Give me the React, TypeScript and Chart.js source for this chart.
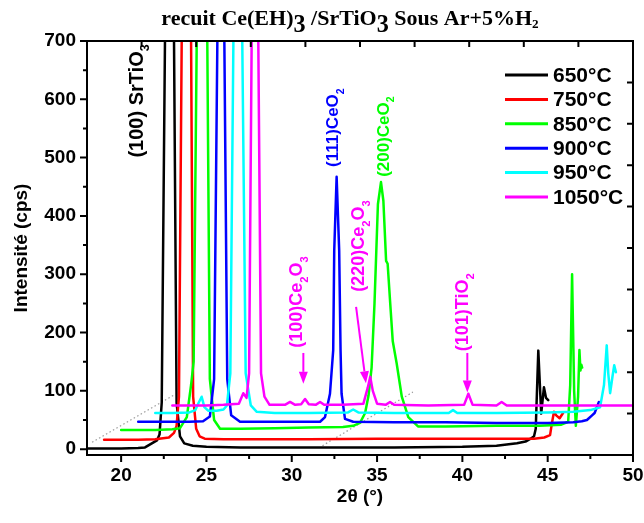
import React, { useEffect, useRef } from "react";
import { Chart, registerables } from "chart.js";

Chart.register(...registerables);

const SANS = '"Liberation Sans", Arial, Helvetica, sans-serif';
const SERIF = '"Liberation Serif", "Times New Roman", Times, serif';

// One trace per annealing temperature
const temperatures = ["650°C", "750°C", "850°C", "900°C", "950°C", "1050°C"];
const traceColors = ["#000000", "#ff0000", "#00ff00", "#0000ff", "#00ffff", "#ff00ff"];

// Axis ticks
const xTicks = [20, 25, 30, 35, 40, 45, 50];
const xMinorTicks = [22.5, 27.5, 32.5, 37.5, 42.5, 47.5];
const yTicks = [0, 100, 200, 300, 400, 500, 600, 700];
const yMinorTicks = [50, 150, 250, 350, 450, 550, 650];

// 650°C
const angle650 = [18.05, 19, 20, 21, 21.4, 21.8, 22.1, 22.25, 22.38, 22.57, 22.84, 23.1, 23.25, 23.45, 23.7, 24.2, 25, 27, 30, 33, 36, 40, 42, 43.2, 43.7, 44.0, 44.2, 44.3, 44.45, 44.62, 44.78, 44.9, 45.03];
const cps650 = [1, 1, 1, 2, 3, 10, 15, 25, 80, 700, 3500, 700, 80, 22, 10, 6, 4, 3, 3, 3, 3, 4, 6, 10, 13, 18, 22, 35, 169, 61, 106, 88, 84];

// 750°C
const angle750 = [19.0, 20, 21, 22, 22.8, 23.1, 23.25, 23.39, 23.55, 23.82, 24.1, 24.22, 24.4, 24.6, 24.9, 26, 28, 31, 35, 38, 41, 44.2, 44.8, 45.14, 45.25, 45.37, 45.5, 45.7, 45.9];
const cps750 = [16, 16, 16, 17, 20, 28, 40, 90, 700, 3300, 700, 90, 35, 22, 18, 17, 17, 17, 18, 18, 18, 18, 20, 24, 45, 64, 58, 53, 62];

// 850°C
const angle850 = [20.0, 21, 22, 23, 23.45, 23.85, 24.1, 24.25, 24.43, 24.74, 25.05, 25.2, 25.45, 25.8, 27, 29, 31, 33, 33.6, 34.0, 34.3, 34.5, 34.68, 34.85, 35.05, 35.23, 35.37, 35.53, 35.62, 35.76, 35.92, 36.15, 36.45, 36.83, 37.4, 39, 42, 44.5, 45.8, 46.2, 46.32, 46.43, 46.55, 46.65, 46.78, 46.86, 46.92, 46.97, 47.02];
const cps850 = [33, 33, 33, 34, 36, 55, 110, 150, 700, 2600, 700, 120, 50, 35, 35, 36, 37, 38, 40, 45, 62, 92, 140, 250, 420, 458, 426, 323, 318, 255, 185, 147, 90, 55, 39, 39, 40, 40, 42, 47, 110, 300, 100, 40, 90, 170, 135, 145, 140];

// 900°C
const angle900 = [21.0, 22, 23, 24, 24.8, 25.2, 25.45, 25.64, 25.85, 26.05, 26.22, 26.45, 26.97, 28, 30, 31.66, 31.95, 32.24, 32.43, 32.49, 32.63, 32.78, 32.86, 32.92, 33.12, 33.6, 36, 39, 42, 45, 46.5, 47.0, 47.3, 47.6, 47.75, 48.0];
const cps900 = [47, 47, 47, 47, 48, 56, 120, 700, 3000, 700, 120, 58, 47, 47, 47, 47, 55, 95, 170, 341, 467, 341, 170, 95, 52, 47, 46, 46, 45, 45, 46, 48, 50, 58, 62, 81];

// 950°C
const angle950 = [22.0, 23, 24.0, 24.35, 24.55, 24.72, 24.88, 25.1, 25.6, 26.0, 26.2, 26.4, 26.58, 26.84, 27.1, 27.3, 27.6, 27.95, 29, 31, 33.3, 33.6, 33.9, 36, 39.2, 39.45, 39.7, 42, 45, 46.5, 47.5, 48.07, 48.3, 48.46, 48.55, 48.66, 48.8, 48.9, 49.0];
const cps950 = [62, 62, 63, 67, 80, 90, 72, 66, 66, 68, 75, 130, 700, 2400, 700, 130, 75, 64, 62, 62, 63, 68, 63, 62, 62, 67, 62, 62, 63, 64, 67, 72, 110, 178, 130, 96, 125, 144, 132];

// 1050°C
const angle1050 = [23.0, 24, 25, 26, 26.9, 27.16, 27.35, 27.5, 27.65, 27.85, 28.04, 28.2, 28.4, 28.7, 29.6, 29.9, 30.2, 30.55, 30.78, 31.0, 31.4, 31.66, 31.9, 33, 34.2, 34.45, 34.6, 34.75, 35.0, 35.5, 35.76, 36.0, 38, 40.1, 40.35, 40.6, 42.0, 42.3, 42.6, 45, 50];
const cps1050 = [75, 75, 75, 76, 78, 96, 88, 130, 700, 3000, 700, 130, 90, 76, 76, 81, 76, 77, 86, 77, 76, 81, 76, 76, 78, 105, 124, 100, 78, 76, 81, 76, 75, 76, 95, 76, 75, 81, 75, 75, 75];

const traceAngles = [angle650, angle750, angle850, angle900, angle950, angle1050];
const traceCounts = [cps650, cps750, cps850, cps900, cps950, cps1050];

// Dotted offset guides of the stacked traces
const guideAngles = [[18.3, 23.05], [31.8, 37.1]];
const guideCounts = [[12, 92], [6, 98]];

// Peak labels: text runs ([text, 1] = subscript), colour, font size, centre angle, start intensity
type Run = [string, number];
const peakLabels: { runs: Run[]; color: string; size: number; x: number; y: number }[] = [
  { runs: [["(100) SrTiO", 0], ["3", 1]], color: "#000000", size: 20, x: 20.95, y: 500 },
  { runs: [["(111)CeO", 0], ["2", 1]], color: "#0000ff", size: 17, x: 32.45, y: 484 },
  { runs: [["(200)CeO", 0], ["2", 1]], color: "#00ff00", size: 17, x: 35.4, y: 467 },
  { runs: [["(100)Ce", 0], ["2", 1], ["O", 0], ["3", 1]], color: "#ff00ff", size: 18, x: 30.3, y: 174 },
  { runs: [["(220)Ce", 0], ["2", 1], ["O", 0], ["3", 1]], color: "#ff00ff", size: 18, x: 33.95, y: 270 },
  { runs: [["(101)TiO", 0], ["2", 1]], color: "#ff00ff", size: 18, x: 40.05, y: 168 },
];

// Arrows pointing at the weak magenta reflections
const arrowFrom = [[30.68, 165], [33.77, 244], [40.29, 165]];
const arrowTo = [[30.68, 112], [34.35, 113], [40.29, 97]];

function drawRuns(ctx: CanvasRenderingContext2D, runs: Run[], x: number, y: number, size: number, family: string, subScale: number, subShift: number) {
  let cx = x;
  for (const [t, k] of runs) {
    const s = k === 1 ? size * subScale : size;
    ctx.font = `bold ${s}px ${family}`;
    ctx.fillText(t, cx, y + (k === 1 ? size * subShift : 0));
    cx += ctx.measureText(t).width;
  }
}

function drawArrow(ctx: CanvasRenderingContext2D, x0: number, y0: number, x1: number, y1: number, color: string) {
  const ang = Math.atan2(y1 - y0, x1 - x0);
  const head = 12;
  const half = 4.5;
  const bx = x1 - head * Math.cos(ang);
  const by = y1 - head * Math.sin(ang);
  ctx.strokeStyle = color;
  ctx.fillStyle = color;
  ctx.lineWidth = 2;
  ctx.beginPath();
  ctx.moveTo(x0, y0);
  ctx.lineTo(bx, by);
  ctx.stroke();
  ctx.beginPath();
  ctx.moveTo(x1, y1);
  ctx.lineTo(bx + half * Math.sin(ang), by - half * Math.cos(ang));
  ctx.lineTo(bx - half * Math.sin(ang), by + half * Math.cos(ang));
  ctx.closePath();
  ctx.fill();
}

const decorPlugin = {
  id: "xrdDecor",
  afterDraw(chart: any) {
    const { ctx, chartArea: a, scales } = chart;
    const xs = scales.x;
    const ys = scales.y;
    ctx.save();

    // Frame
    ctx.strokeStyle = "#000";
    ctx.lineWidth = 2;
    ctx.strokeRect(a.left, a.top, a.right - a.left, a.bottom - a.top);

    // Outward ticks on bottom and left, inward ticks on top and right
    ctx.beginPath();
    for (const v of xTicks) {
      const p = xs.getPixelForValue(v);
      ctx.moveTo(p, a.bottom); ctx.lineTo(p, a.bottom + 7);
    }
    for (const v of xMinorTicks) {
      const p = xs.getPixelForValue(v);
      ctx.moveTo(p, a.bottom); ctx.lineTo(p, a.bottom + 4);
    }
    for (const v of yTicks) {
      const p = ys.getPixelForValue(v);
      ctx.moveTo(a.left, p); ctx.lineTo(a.left - 7, p);
    }
    for (const v of yMinorTicks) {
      const p = ys.getPixelForValue(v);
      ctx.moveTo(a.left, p); ctx.lineTo(a.left - 4, p);
    }
    for (let i = 1; i < 10; i++) {
      const px = a.left + ((a.right - a.left) * i) / 10;
      ctx.moveTo(px, a.top); ctx.lineTo(px, a.top + 6);
      const py = a.top + ((a.bottom - a.top) * i) / 10;
      ctx.moveTo(a.right, py); ctx.lineTo(a.right - 6, py);
    }
    ctx.stroke();

    // Title
    ctx.fillStyle = "#000";
    ctx.textBaseline = "alphabetic";
    const titleRuns: [string, number][] = [["recuit Ce(EH)", 0], ["3", 2], [" /SrTiO", 0], ["3", 2], [" Sous Ar+5%H", 0], ["2", 1]];
    const tSize = 22;
    const tFont = (k: number) => `bold ${k === 1 ? tSize * 0.6 : k === 2 ? tSize * 1.1 : tSize}px ${SERIF}`;
    let tw = 0;
    for (const [t, k] of titleRuns) {
      ctx.font = tFont(k);
      tw += ctx.measureText(t).width;
    }
    let tx = 350 - tw / 2;
    for (const [t, k] of titleRuns) {
      ctx.font = tFont(k);
      const dy = k === 2 ? tSize * 0.3 : k === 1 ? tSize * 0.15 : 0;
      ctx.fillText(t, tx, 25 + dy);
      tx += ctx.measureText(t).width;
    }

    // Axis titles
    ctx.font = `bold 19px ${SANS}`;
    ctx.textAlign = "center";
    ctx.textBaseline = "middle";
    ctx.fillText("2θ (°)", (a.left + a.right) / 2, 497);
    ctx.save();
    ctx.translate(22, (a.top + a.bottom) / 2);
    ctx.rotate(-Math.PI / 2);
    ctx.fillText("Intensité (cps)", 0, 0);
    ctx.restore();

    // Peak labels, written bottom to top
    ctx.textAlign = "left";
    ctx.textBaseline = "middle";
    for (const lab of peakLabels) {
      ctx.save();
      ctx.translate(xs.getPixelForValue(lab.x), ys.getPixelForValue(lab.y));
      ctx.rotate(-Math.PI / 2);
      ctx.fillStyle = lab.color;
      drawRuns(ctx, lab.runs, 0, 0, lab.size, SANS, 0.62, 0.42);
      ctx.restore();
    }

    // Arrows
    for (let i = 0; i < arrowFrom.length; i++) {
      drawArrow(
        ctx,
        xs.getPixelForValue(arrowFrom[i][0]), ys.getPixelForValue(arrowFrom[i][1]),
        xs.getPixelForValue(arrowTo[i][0]), ys.getPixelForValue(arrowTo[i][1]),
        "#ff00ff"
      );
    }

    // Legend
    ctx.textAlign = "left";
    ctx.textBaseline = "middle";
    ctx.font = `bold 21px ${SANS}`;
    temperatures.forEach((t, i) => {
      const y = 75 + i * 24.4;
      ctx.strokeStyle = traceColors[i];
      ctx.lineWidth = 3;
      ctx.beginPath();
      ctx.moveTo(505, y);
      ctx.lineTo(548, y);
      ctx.stroke();
      ctx.fillStyle = "#000";
      ctx.fillText(t, 553, y + 1);
    });

    ctx.restore();
  },
};

export default function App() {
  const canvasRef = useRef<HTMLCanvasElement | null>(null);

  useEffect(() => {
    const canvas = canvasRef.current;
    if (!canvas) return;

    const datasets: any[] = [];
    guideAngles.forEach((xs, g) => {
      datasets.push({
        data: xs.map((x, j) => ({ x, y: guideCounts[g][j] })),
        borderColor: "#9a9a9a",
        borderWidth: 1.2,
        borderDash: [1.5, 2.5],
        pointRadius: 0,
        order: 20,
      });
    });
    traceAngles.forEach((xs, i) => {
      datasets.push({
        label: temperatures[i],
        data: xs.map((x, j) => ({ x, y: traceCounts[i][j] })),
        borderColor: traceColors[i],
        borderWidth: 2.5,
        borderJoinStyle: "round",
        borderCapStyle: "round",
        pointRadius: 0,
        tension: 0,
        order: 10 - i,
      });
    });

    const tickFont = { family: SANS, size: 19, weight: "bold" as const };

    const chart = new Chart(canvas, {
      type: "line",
      data: { datasets },
      options: {
        animation: false,
        responsive: false,
        devicePixelRatio: 1,
        layout: { padding: { top: 41, right: 11, left: 0, bottom: 0 } },
        plugins: { legend: { display: false }, title: { display: false }, tooltip: { enabled: false } },
        scales: {
          x: {
            type: "linear",
            min: 18,
            max: 50,
            grid: { display: false, drawTicks: false },
            border: { display: false },
            ticks: { font: tickFont, color: "#000", padding: 9, autoSkip: false, maxRotation: 0 },
            afterBuildTicks: (s: any) => { s.ticks = xTicks.map((v) => ({ value: v })); },
            afterFit: (s: any) => { s.height = 68; s.paddingLeft = 0; s.paddingRight = 0; },
          },
          y: {
            type: "linear",
            min: -10,
            max: 700,
            grid: { display: false, drawTicks: false },
            border: { display: false },
            ticks: { font: tickFont, color: "#000", padding: 11, autoSkip: false },
            afterBuildTicks: (s: any) => { s.ticks = yTicks.map((v) => ({ value: v })); },
            afterFit: (s: any) => { s.width = 87; s.paddingTop = 0; s.paddingBottom = 0; },
          },
        },
      },
      plugins: [decorPlugin],
    });

    return () => chart.destroy();
  }, []);

  return (
    <div style={{ position: "fixed", left: 0, top: 0, width: 644, height: 523, background: "#fff" }}>
      <canvas ref={canvasRef} width={644} height={523} style={{ width: 644, height: 523 }} />
    </div>
  );
}
